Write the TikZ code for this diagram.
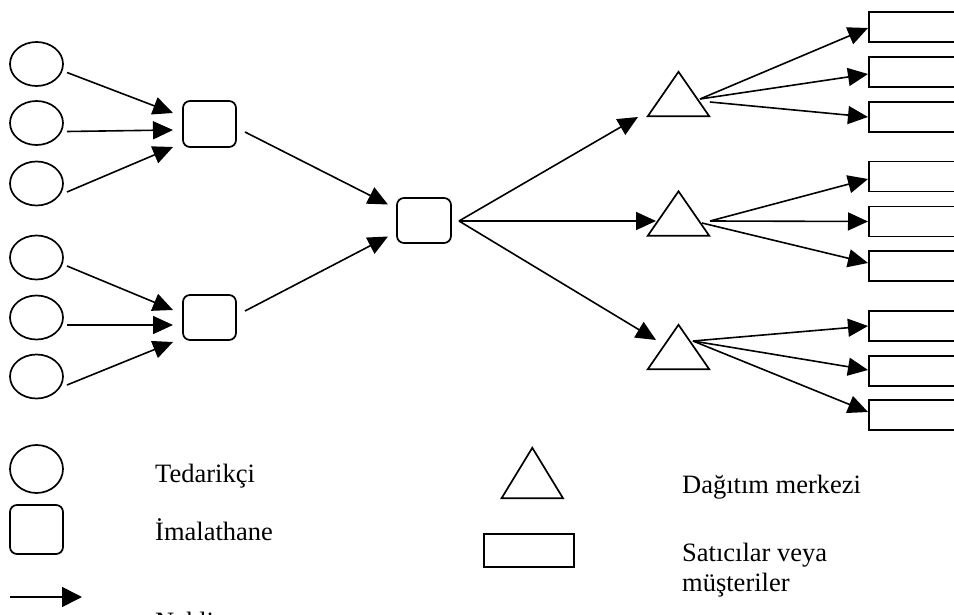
\documentclass[tikz,border=0pt]{standalone}
\usepackage{fontspec}
\setmainfont{Liberation Serif}
\usetikzlibrary{shapes.geometric,arrows.meta,calc}

\tikzset{
  outline/.style={draw=black,line width=1.7pt,inner sep=0pt},
  supplier/.style={outline,ellipse,minimum width=53pt,minimum height=44pt},
  plant/.style={outline,rectangle,rounded corners=7pt,minimum width=53pt,minimum height=46pt},
  dcbox/.style={inner sep=0pt,minimum width=61pt,minimum height=44pt},
  retailer/.style={outline,rectangle,minimum width=90pt,minimum height=30pt,anchor=west},
  flow/.style={line width=1.6pt,-{Triangle[length=20pt,width=18pt]}},
  legendtext/.style={anchor=base west,inner sep=0pt,font=\fontsize{26.5}{30}\selectfont}
}

\newcommand{\dctriangle}[1]{\draw[line width=1.7pt,line join=miter] (#1.south west) -- (#1.north) -- (#1.south east) -- cycle;}

\begin{document}
\begin{tikzpicture}[x=1pt,y=-1pt]
  \path[use as bounding box,clip] (0,0) rectangle (954,615);
  \fill[white] (0,0) rectangle (954,615);

  % suppliers
  \node[supplier] (e1) at (36.5,64) {};
  \node[supplier] (e2) at (36.5,123) {};
  \node[supplier] (e3) at (36.5,183.5) {};
  \node[supplier] (e4) at (36.5,257.5) {};
  \node[supplier] (e5) at (36.5,317.5) {};
  \node[supplier] (e6) at (36.5,376.5) {};

  % plants
  \node[plant] (m1) at (209.5,124) {};
  \node[plant,minimum height=45pt] (m2) at (209.5,317.5) {};
  \node[plant,minimum width=54pt,minimum height=45pt] (mc) at (424,220.5) {};

  % distribution centres
  \node[dcbox] (d1) at (678.5,94) {};
  \node[dcbox] (d2) at (678.5,213.5) {};
  \node[dcbox] (d3) at (678.5,347) {};
  \dctriangle{d1}
  \dctriangle{d2}
  \dctriangle{d3}

  % retailers / customers
  \node[retailer] (r1) at (868,27) {};
  \node[retailer] (r2) at (868,72) {};
  \node[retailer] (r3) at (868,117) {};
  \node[retailer] (r4) at (868,176.5) {};
  \node[retailer] (r5) at (868,221.5) {};
  \node[retailer] (r6) at (868,266) {};
  \node[retailer] (r7) at (868,326) {};
  \node[retailer] (r8) at (868,371) {};
  \node[retailer] (r9) at (868,415) {};

  % suppliers -> plants
  \draw[flow] ($(e1)+(30.5,8.5)$) -- ($(m1)+(-36.5,-11)$);
  \draw[flow] ($(e2)+(30.5,8.5)$) -- ($(m1)+(-36.5,6)$);
  \draw[flow] ($(e3)+(30.5,8.5)$) -- ($(m1)+(-36.5,23)$);
  \draw[flow] ($(e4)+(30.5,8.5)$) -- ($(m2)+(-36.5,-7.5)$);
  \draw[flow] ($(e5)+(30.5,7.5)$) -- ($(m2)+(-36.5,7.5)$);
  \draw[flow] ($(e6)+(30.5,8.5)$) -- ($(m2)+(-36.5,24.5)$);

  % plants -> central plant
  \draw[flow] ($(m1)+(35.5,8)$) -- ($(mc)+(-36,-16)$);
  \draw[flow] ($(m2)+(35.5,-6.5)$) -- ($(mc)+(-36,16)$);

  % central plant -> distribution centres
  \coordinate (mo) at ($(mc)+(35,0.5)$);
  \draw[flow] (mo) -- ($(d1)+(-40.5,23)$);
  \draw[flow] (mo) -- ($(d2)+(-22.5,7.5)$);
  \draw[flow] (mo) -- ($(d3)+(-22.5,-7)$);

  % distribution centres -> retailers
  \draw[flow] ($(d1)+(21.5,5)$) -- ($(r1.west)+(0,1)$);
  \draw[flow] ($(d1)+(21.5,5)$) -- ($(r2.west)+(0,2)$);
  \draw[flow] ($(d1)+(31.5,8)$) -- (r3.west);
  \draw[flow] ($(d2)+(31.5,7.5)$) -- ($(r4.west)+(0,2.5)$);
  \draw[flow] ($(d2)+(31.5,7.5)$) -- (r5.west);
  \draw[flow] ($(d2)+(23.5,9.5)$) -- ($(r6.west)+(0,-3)$);
  \draw[flow] ($(d3)+(14.5,-6)$) -- (r7.west);
  \draw[flow] ($(d3)+(14.5,-6)$) -- ($(r8.west)+(0,-1)$);
  \draw[flow] ($(d3)+(14.5,-6)$) -- ($(r9.west)+(0,-3)$);

  % legend
  \node[supplier,minimum height=48pt] (le) at (36.5,469) {};
  \node[plant,minimum height=49pt] (lm) at (36.5,529.5) {};
  \coordinate (la1) at (10,597);
  \coordinate (la2) at (82,597);
  \draw[line width=1.6pt,-{Triangle[length=20pt,width=20pt]}] (la1) -- (la2);
  \node[dcbox,minimum height=50pt] (ld) at (532.3,473) {};
  \dctriangle{ld}
  \node[outline,rectangle,minimum width=90pt,minimum height=33pt] (lr) at (529,550.5) {};

  \node[legendtext] (t1) at (155,482) {Tedarikçi};
  \node[legendtext] (t2) at (155,540) {İmalathane};
  \node[legendtext] (t3) at (155,630) {Nakliye};
  \node[legendtext] (t4) at (682,493) {Dağıtım merkezi};
  \node[legendtext] (t5) at (682,561.5) {Satıcılar veya};
  \node[legendtext] (t6) at (682,591.5) {müşteriler};
\end{tikzpicture}
\end{document}
